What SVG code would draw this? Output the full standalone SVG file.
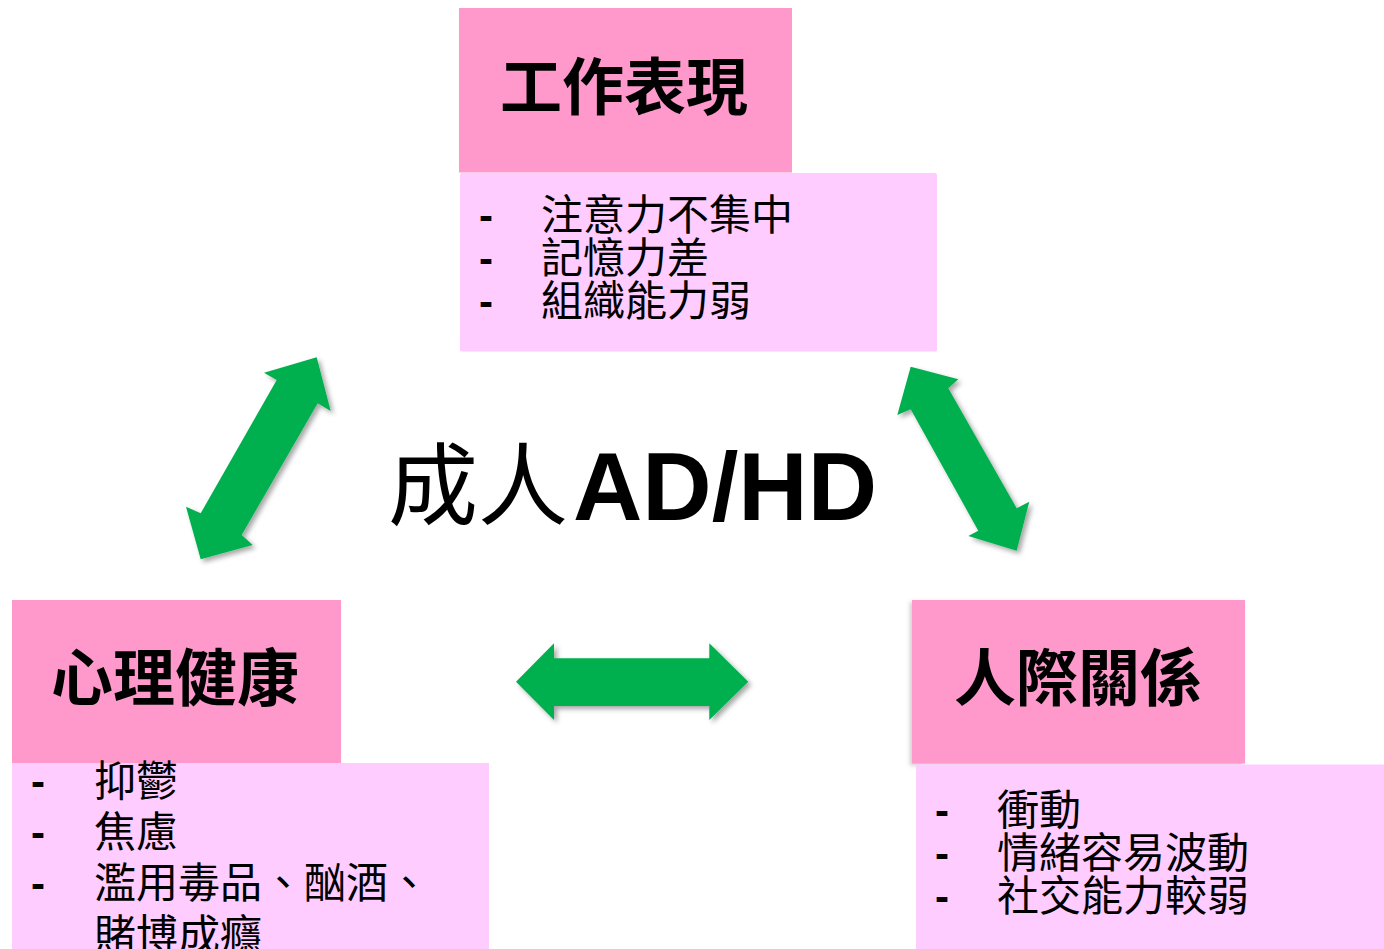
<svg xmlns="http://www.w3.org/2000/svg" width="1384" height="949" viewBox="0 0 1384 949">
<style>
.title{fill:#FF99CC}
.list{fill:#FFCCFF}
.t{font-family:"Noto Sans CJK TC","Noto Sans CJK SC",sans-serif;font-weight:bold;font-size:62px;fill:#000}
.li{font-family:"Noto Sans CJK TC","Noto Sans CJK SC",sans-serif;font-size:42px;fill:#000}
.d{font-family:"Liberation Sans",Arial,sans-serif;font-weight:bold;font-size:42px;fill:#000}
.arr{fill:#00B050;filter:url(#sh)}
</style>
<defs>
<filter id="sh" x="-20%" y="-20%" width="140%" height="140%">
<feDropShadow dx="3" dy="3" stdDeviation="2.5" flood-color="#000" flood-opacity="0.35"/>
</filter>
</defs>
<rect width="1384" height="949" fill="#fff"/>

<g id="connectors">
<polygon class="arr" points="316.7,357.3 330.7,411 317.7,403.3 241.7,535 252.7,545 200.7,559.3 186,506.7 200.7,513.3 276.7,380 264,372.7"/>
<polygon class="arr" points="910.7,366.7 958.3,379.3 948.3,388.3 1016.7,508.3 1029.3,501.7 1016.7,550.7 968.3,536 978.3,530.7 910.7,409.3 897.3,415"/>
<polygon class="arr" points="516,681.7 554,643.3 554,658.3 709.3,658.3 709.3,643.3 748.3,681.7 709.3,720 709.3,706 554,706 554,720"/>
</g>

<g id="work">
<rect class="title" x="459" y="8" width="333" height="164.5"/>
<text class="t" x="500" y="110">工作表現</text>
<rect class="list" x="460" y="173" width="477" height="178.5" rx="2"/>
<text class="d" x="479" y="230">-</text>
<text class="d" x="479" y="273">-</text>
<text class="d" x="479" y="316">-</text>
<text class="li" x="541" y="230">注意力不集中</text>
<text class="li" x="541" y="273">記憶力差</text>
<text class="li" x="541" y="316">組織能力弱</text>
</g>

<g id="center">
<text x="388" y="518" font-family="Noto Sans CJK TC,Noto Sans CJK SC,sans-serif" font-size="90" fill="#000">成人<tspan x="573" y="520" font-family="Liberation Sans,Arial,sans-serif" font-weight="bold" font-size="96">AD/HD</tspan></text>
</g>

<g id="mental">
<rect class="title" x="12" y="600" width="329" height="163"/>
<text class="t" x="51" y="701">心理健康</text>
<rect class="list" x="12" y="763" width="477" height="186"/>
<text class="d" x="31" y="796">-</text>
<text class="d" x="31" y="847">-</text>
<text class="d" x="31" y="898">-</text>
<text class="li" x="94" y="796">抑鬱</text>
<text class="li" x="94" y="847">焦慮</text>
<text class="li" x="94" y="898">濫用毒品、酗酒、</text>
<text class="li" x="94" y="950">賭博成癮</text>
</g>

<g id="social">
<rect class="title" x="912" y="600" width="333" height="163.5" style="filter:drop-shadow(-2px 2px 2px rgba(0,0,0,0.2))"/>
<rect class="list" x="916" y="764.5" width="468" height="184.5"/>
<text class="t" x="954" y="701">人際關係</text>
<text class="d" x="935" y="825">-</text>
<text class="d" x="935" y="868">-</text>
<text class="d" x="935" y="911">-</text>
<text class="li" x="997" y="825">衝動</text>
<text class="li" x="997" y="868">情緒容易波動</text>
<text class="li" x="997" y="911">社交能力較弱</text>
</g>
</svg>
